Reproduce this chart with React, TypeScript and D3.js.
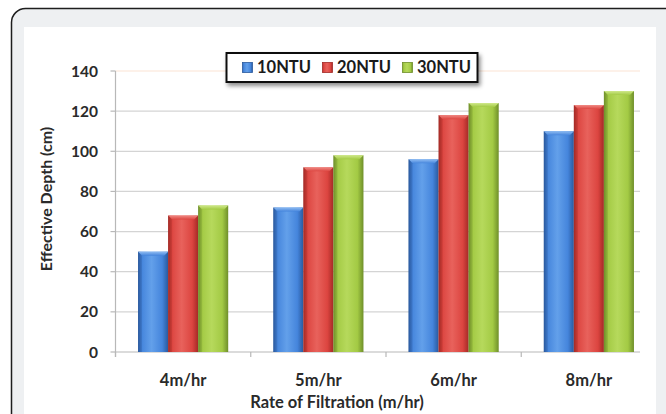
import React from "react";
import * as d3 from "d3";

const categories = ["4m/hr", "5m/hr", "6m/hr", "8m/hr"];
const seriesNames = ["10NTU", "20NTU", "30NTU"];
const ntu10 = [50, 72, 96, 110];
const ntu20 = [68, 92, 118, 123];
const ntu30 = [73, 98, 124, 130];
const yTicks = [0, 20, 40, 60, 80, 100, 120, 140];

const W = 666;
const H = 414;
const FONT = "Lato, 'Open Sans', sans-serif";

const colors = [
  { dark: "#2a5a9e", mid: "#4585dc", light: "#63a0ea", top: "#8fbcf2" },
  { dark: "#a42a26", mid: "#dc4540", light: "#e8625c", top: "#f08a84" },
  { dark: "#6f8f2a", mid: "#a3ca44", light: "#b6d95c", top: "#cfe88a" },
];

export default function App() {
  const series = [ntu10, ntu20, ntu30];
  const x0 = d3
    .scaleBand<string>()
    .domain(categories)
    .range([115.5, 656.5])
    .paddingInner(1 / 3)
    .paddingOuter(1 / 6);
  const step = x0.step();
  const x1 = d3
    .scaleBand<string>()
    .domain(seriesNames)
    .range([0, x0.bandwidth()]);
  const y = d3.scaleLinear().domain([0, 140]).range([352, 71]);
  const plotLeft = 115.5;
  const plotRight = 640;
  const boundaries = d3.range(categories.length).map((i) => plotLeft + i * step);

  return (
    <svg
      width={W}
      height={H}
      style={{ position: "absolute", left: 0, top: 0, display: "block" }}
    >
      <defs>
        {colors.map((c, i) => (
          <linearGradient key={i} id={`g${i}`} x1="0" x2="1" y1="0" y2="0">
            <stop offset="0%" stopColor={c.dark} />
            <stop offset="12%" stopColor={c.mid} />
            <stop offset="45%" stopColor={c.light} />
            <stop offset="80%" stopColor={c.mid} />
            <stop offset="100%" stopColor={c.dark} />
          </linearGradient>
        ))}
        {colors.map((c, i) => (
          <linearGradient key={"t" + i} id={`t${i}`} x1="0" x2="0" y1="0" y2="1">
            <stop offset="0%" stopColor={c.top} />
            <stop offset="100%" stopColor={c.mid} />
          </linearGradient>
        ))}
        <filter id="shadow" x="-10%" y="-30%" width="130%" height="180%">
          <feDropShadow dx="2" dy="3" stdDeviation="2" floodColor="#000" floodOpacity="0.45" />
        </filter>
      </defs>

      {/* outer frame */}
      <rect x={11.5} y={8.5} width={W + 20} height={H + 20} rx={14} fill="#eef0f2" stroke="#1e1e1e" strokeWidth={1.5} />
      {/* white panel */}
      <rect x={24} y={27} width={632} height={H} fill="#ffffff" />

      {/* gridlines */}
      {yTicks.map((t) => (
        <line
          key={t}
          x1={plotLeft}
          x2={plotRight}
          y1={y(t)}
          y2={y(t)}
          stroke={t === 140 ? "#fbe3d3" : t === 0 ? "#b8b8b8" : "#d4d4d4"}
          strokeWidth={1.2}
        />
      ))}
      {/* y axis */}
      <line x1={plotLeft} x2={plotLeft} y1={y(140)} y2={y(0) + 5} stroke="#b8b8b8" strokeWidth={1.2} />
      {yTicks.map((t) => (
        <line key={"yt" + t} x1={plotLeft - 5} x2={plotLeft} y1={y(t)} y2={y(t)} stroke="#b8b8b8" strokeWidth={1.2} />
      ))}
      {yTicks.map((t) => (
        <text
          key={"yl" + t}
          x={98}
          y={y(t)}
          dy="0.36em"
          textAnchor="end"
          fontFamily={FONT}
          fontWeight={700}
          fontSize={15.5}
          fill="#2a2a2a"
        >
          {t}
        </text>
      ))}
      {/* x ticks */}
      {boundaries.map((b, i) => (
        <line key={"xt" + i} x1={b} x2={b} y1={y(0)} y2={y(0) + 5} stroke="#b8b8b8" strokeWidth={1.2} />
      ))}

      {/* bars */}
      {categories.map((c, ci) => (
        <g key={c} transform={`translate(${x0(c)},0)`}>
          {seriesNames.map((s, si) => {
            const v = series[si][ci];
            const bx = x1(s)!;
            const bw = x1.bandwidth();
            const top = y(v);
            const bev = 4;
            return (
              <g key={s}>
                <rect x={bx} y={top} width={bw} height={y(0) - top} fill={`url(#g${si})`} />
                <path
                  d={`M${bx},${top} L${bx + bw},${top} L${bx + bw - bev},${top + bev} L${bx + bev},${top + bev} Z`}
                  fill={`url(#t${si})`}
                />
                <path
                  d={`M${bx},${top} L${bx + bev},${top + bev} L${bx + bev},${y(0)} L${bx},${y(0)} Z`}
                  fill={colors[si].dark}
                  opacity={0.35}
                />
              </g>
            );
          })}
        </g>
      ))}

      {/* x labels */}
      {categories.map((c) => (
        <text
          key={"xl" + c}
          x={x0(c)! + x0.bandwidth() / 2}
          y={386}
          textAnchor="middle"
          fontFamily={FONT}
          fontWeight={700}
          fontSize={16.5}
          fill="#2a2a2a"
        >
          {c}
        </text>
      ))}
      <text x={337} y={408} textAnchor="middle" fontFamily={FONT} fontWeight={700} fontSize={16.5} fill="#2a2a2a">
        Rate of Filtration (m/hr)
      </text>
      <text
        transform={`translate(52,199) rotate(-90)`}
        textAnchor="middle"
        fontFamily={FONT}
        fontWeight={700}
        fontSize={16}
        fill="#2a2a2a"
      >
        Effective Depth (cm)
      </text>

      {/* legend */}
      <rect x={226.5} y={53} width={251} height={29} fill="#fff" stroke="#111" strokeWidth={2} filter="url(#shadow)" />
      {seriesNames.map((s, i) => {
        const lx = [242.5, 322.5, 402.5][i];
        return (
          <g key={"lg" + s}>
            <rect x={lx} y={62.5} width={10} height={10} fill={`url(#g${i})`} stroke={colors[i].dark} strokeWidth={0.8} />
            <text x={lx + 14.5} y={73} fontFamily={FONT} fontWeight={700} fontSize={16.5} fill="#1a1a1a">
              {s}
            </text>
          </g>
        );
      })}
    </svg>
  );
}
